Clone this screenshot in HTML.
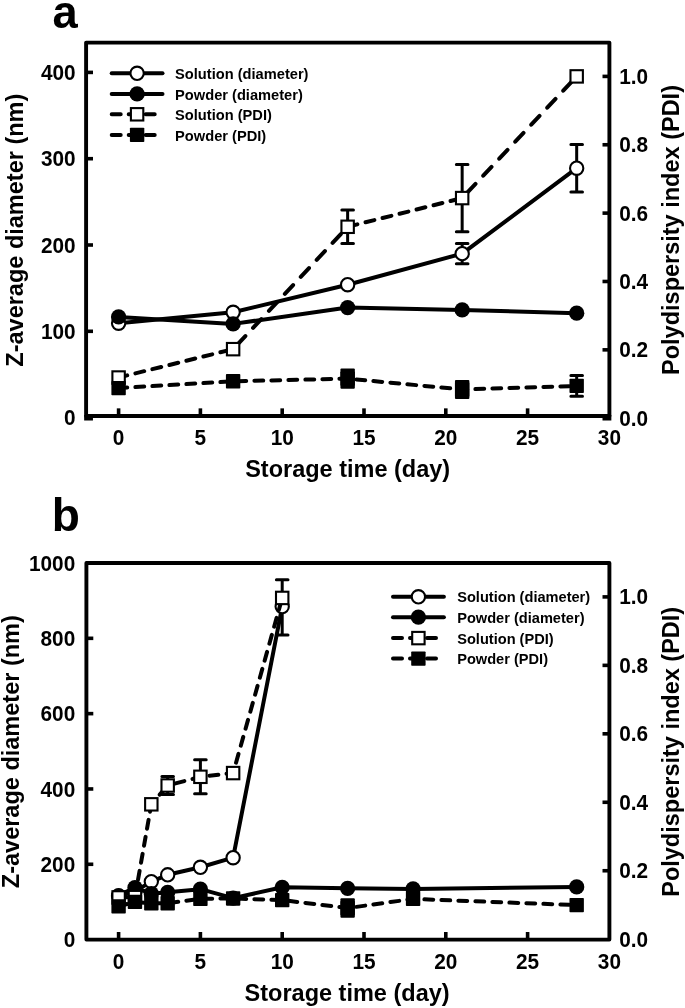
<!DOCTYPE html>
<html lang="en"><head><meta charset="utf-8"><title>Storage stability: Z-average diameter and PDI</title>
<style>html,body{margin:0;padding:0;background:#fff}body{width:685px;height:1008px;overflow:hidden}svg{display:block;will-change:transform}text{font-family:'Liberation Sans', Arial, Helvetica, sans-serif;font-weight:700;fill:#000}</style>
</head><body>
<svg width="685" height="1008" viewBox="0 0 685 1008">
<rect width="685" height="1008" fill="#fff"/>
<g id="panel-a">
<text x="52.4" y="27.6" font-size="45.3">a</text>
<rect x="86.1" y="42.6" width="523.3" height="373.35" fill="none" stroke="#000" stroke-width="3.9" stroke-linejoin="round"/>
<path d="M118.6 415.95V408.35" stroke="#000" stroke-width="3.6"/>
<text transform="translate(118.6 444.6) scale(1 1.06)" font-size="20.8" text-anchor="middle">0</text>
<path d="M200.4 415.95V408.35" stroke="#000" stroke-width="3.6"/>
<text transform="translate(200.4 444.6) scale(1 1.06)" font-size="20.8" text-anchor="middle">5</text>
<path d="M282.2 415.95V408.35" stroke="#000" stroke-width="3.6"/>
<text transform="translate(282.2 444.6) scale(1 1.06)" font-size="20.8" text-anchor="middle">10</text>
<path d="M364 415.95V408.35" stroke="#000" stroke-width="3.6"/>
<text transform="translate(364 444.6) scale(1 1.06)" font-size="20.8" text-anchor="middle">15</text>
<path d="M445.8 415.95V408.35" stroke="#000" stroke-width="3.6"/>
<text transform="translate(445.8 444.6) scale(1 1.06)" font-size="20.8" text-anchor="middle">20</text>
<path d="M527.6 415.95V408.35" stroke="#000" stroke-width="3.6"/>
<text transform="translate(527.6 444.6) scale(1 1.06)" font-size="20.8" text-anchor="middle">25</text>
<text transform="translate(609.4 444.6) scale(1 1.06)" font-size="20.8" text-anchor="middle">30</text>
<text transform="translate(75.6 425.3) scale(1 1.06)" font-size="20.8" text-anchor="end">0</text>
<path d="M86.1 331.3H93" stroke="#000" stroke-width="3.6"/>
<text transform="translate(75.6 339) scale(1 1.06)" font-size="20.8" text-anchor="end">100</text>
<path d="M86.1 245H93" stroke="#000" stroke-width="3.6"/>
<text transform="translate(75.6 252.7) scale(1 1.06)" font-size="20.8" text-anchor="end">200</text>
<path d="M86.1 158.7H93" stroke="#000" stroke-width="3.6"/>
<text transform="translate(75.6 166.4) scale(1 1.06)" font-size="20.8" text-anchor="end">300</text>
<path d="M86.1 72.4H93" stroke="#000" stroke-width="3.6"/>
<text transform="translate(75.6 80.1) scale(1 1.06)" font-size="20.8" text-anchor="end">400</text>
<text transform="translate(619.2 425.7) scale(1 1.06)" font-size="20.8">0.0</text>
<path d="M609.4 349.84H602.5" stroke="#000" stroke-width="3.6"/>
<text transform="translate(619.2 357.34) scale(1 1.06)" font-size="20.8">0.2</text>
<path d="M609.4 281.48H602.5" stroke="#000" stroke-width="3.6"/>
<text transform="translate(619.2 288.98) scale(1 1.06)" font-size="20.8">0.4</text>
<path d="M609.4 213.12H602.5" stroke="#000" stroke-width="3.6"/>
<text transform="translate(619.2 220.62) scale(1 1.06)" font-size="20.8">0.6</text>
<path d="M609.4 144.76H602.5" stroke="#000" stroke-width="3.6"/>
<text transform="translate(619.2 152.26) scale(1 1.06)" font-size="20.8">0.8</text>
<path d="M609.4 76.4H602.5" stroke="#000" stroke-width="3.6"/>
<text transform="translate(619.2 83.9) scale(1 1.06)" font-size="20.8">1.0</text>
<rect x="84.15" y="415" width="8.8" height="5.5" fill="#000"/>
<rect x="602.5" y="415" width="8.85" height="5.5" fill="#000"/>
<path d="M118.6 323.19L233.12 312.31L347.64 284.7L462.16 253.63L576.68 168.19" fill="none" stroke="#000" stroke-width="4.0" stroke-linecap="round" stroke-linejoin="round"/>
<path d="M462.16 243.43V263.83M456.36 243.43H467.96M456.36 263.83H467.96" fill="none" stroke="#000" stroke-width="3" stroke-linecap="round"/>
<path d="M576.68 144.39V191.99M570.88 144.39H582.48M570.88 191.99H582.48" fill="none" stroke="#000" stroke-width="3" stroke-linecap="round"/>
<circle cx="118.6" cy="323.19" r="6.65" fill="#fff" stroke="#000" stroke-width="2.1"/>
<circle cx="233.12" cy="312.31" r="6.65" fill="#fff" stroke="#000" stroke-width="2.1"/>
<circle cx="347.64" cy="284.7" r="6.65" fill="#fff" stroke="#000" stroke-width="2.1"/>
<circle cx="462.16" cy="253.63" r="6.65" fill="#fff" stroke="#000" stroke-width="2.1"/>
<circle cx="576.68" cy="168.19" r="6.65" fill="#fff" stroke="#000" stroke-width="2.1"/>
<path d="M118.6 316.89L233.12 323.88L347.64 307.57L462.16 309.9L576.68 313.18" fill="none" stroke="#000" stroke-width="4.0" stroke-linecap="round" stroke-linejoin="round"/>
<circle cx="118.6" cy="316.89" r="7.65" fill="#000"/>
<circle cx="233.12" cy="323.88" r="7.65" fill="#000"/>
<circle cx="347.64" cy="307.57" r="7.65" fill="#000"/>
<circle cx="462.16" cy="309.9" r="7.65" fill="#000"/>
<circle cx="576.68" cy="313.18" r="7.65" fill="#000"/>
<path d="M118.6 377.53L127.2 375.4M135.4 373.36L144.2 371.18M152.4 369.15L161.2 366.97M169.4 364.94L178.2 362.76M186.4 360.73L195.2 358.55M203.4 356.52L212.2 354.34M220.4 352.31L229.2 350.13M237.13 344.88L245.36 336.08M253.04 327.88L261.27 319.08M268.95 310.88L277.18 302.08M284.86 293.88L293.09 285.08M300.77 276.88L309 268.08M316.68 259.88L324.91 251.08M332.59 242.88L340.82 234.08M348.56 226.56L357.36 224.36M365.56 222.3L374.36 220.09M382.56 218.04L391.36 215.83M399.56 213.78L408.36 211.57M416.56 209.51L425.36 207.31M433.56 205.25L442.36 203.05M450.56 200.99L459.36 198.78M467.24 192.69L475.52 183.89M483.24 175.69L491.52 166.89M499.24 158.69L507.52 149.89M515.24 141.69L523.52 132.89M531.24 124.69L539.52 115.89M547.24 107.69L555.52 98.89M563.24 90.69L571.52 81.89" fill="none" stroke="#000" stroke-width="4.0" stroke-linecap="round" stroke-linejoin="round"/>
<path d="M347.64 209.99V243.59M341.84 209.99H353.44M341.84 243.59H353.44" fill="none" stroke="#000" stroke-width="3" stroke-linecap="round"/>
<path d="M462.16 164.48V231.68M456.36 164.48H467.96M456.36 231.68H467.96" fill="none" stroke="#000" stroke-width="3" stroke-linecap="round"/>
<rect x="112.4" y="371.33" width="12.4" height="12.4" fill="#fff" stroke="#000" stroke-width="2.1"/>
<rect x="226.92" y="342.96" width="12.4" height="12.4" fill="#fff" stroke="#000" stroke-width="2.1"/>
<rect x="341.44" y="220.59" width="12.4" height="12.4" fill="#fff" stroke="#000" stroke-width="2.1"/>
<rect x="455.96" y="191.88" width="12.4" height="12.4" fill="#fff" stroke="#000" stroke-width="2.1"/>
<rect x="570.48" y="70.2" width="12.4" height="12.4" fill="#fff" stroke="#000" stroke-width="2.1"/>
<path d="M118.6 388.12L127.2 387.61M135.4 387.12L144.2 386.59M152.4 386.1L161.2 385.58M169.4 385.09L178.2 384.56M186.4 384.07L195.2 383.55M203.4 383.06L212.2 382.53M220.4 382.04L229.2 381.52M237.4 381.19L246.2 380.98M254.4 380.79L263.2 380.59M271.4 380.39L280.2 380.19M288.4 380L297.2 379.79M305.4 379.6L314.2 379.4M322.4 379.21L331.2 379M339.4 378.81L347.64 378.62L348.2 378.67M356.4 379.45L365.2 380.29M373.4 381.06L382.2 381.9M390.4 382.68L399.2 383.51M407.4 384.29L416.2 385.13M424.4 385.9L433.2 386.74M441.4 387.52L450.2 388.35M458.4 389.13L462.16 389.49L467.2 389.33M475.4 389.07L484.2 388.8M492.4 388.54L501.2 388.27M509.4 388.01L518.2 387.73M526.4 387.48L535.2 387.2M543.4 386.94L552.2 386.67M560.4 386.41L569.2 386.13" fill="none" stroke="#000" stroke-width="4.0" stroke-linecap="round" stroke-linejoin="round"/>
<rect x="340.44" y="368.52" width="14.4" height="20.2" rx="1" fill="#000"/>
<rect x="454.96" y="379.99" width="14.4" height="19" rx="1" fill="#000"/>
<path d="M576.68 375.6V396.2M570.88 375.6H582.48M570.88 396.2H582.48" fill="none" stroke="#000" stroke-width="3" stroke-linecap="round"/>
<rect x="111.4" y="380.92" width="14.4" height="14.4" rx="0.8" fill="#000"/>
<rect x="225.92" y="374.09" width="14.4" height="14.4" rx="0.8" fill="#000"/>
<rect x="340.44" y="371.42" width="14.4" height="14.4" rx="0.8" fill="#000"/>
<rect x="454.96" y="382.29" width="14.4" height="14.4" rx="0.8" fill="#000"/>
<rect x="569.48" y="378.7" width="14.4" height="14.4" rx="0.8" fill="#000"/>
<path d="M111.7 73.3H162.5" stroke="#000" stroke-width="4.0" stroke-linecap="round"/>
<circle cx="137.1" cy="73.3" r="6.65" fill="#fff" stroke="#000" stroke-width="2.1"/>
<text x="175.1" y="78.94" font-size="14.65">Solution (diameter)</text>
<path d="M111.7 93.9H162.5" stroke="#000" stroke-width="4.0" stroke-linecap="round"/>
<circle cx="137.1" cy="93.9" r="7.65" fill="#000"/>
<text x="175.1" y="99.54" font-size="14.65">Powder (diameter)</text>
<path d="M111.7 114.3h9M128.7 114.3h9M145.7 114.3h9" stroke="#000" stroke-width="4.0" stroke-linecap="round"/>
<rect x="130.9" y="108.1" width="12.4" height="12.4" fill="#fff" stroke="#000" stroke-width="2.1"/>
<text x="175.1" y="119.94" font-size="14.65">Solution (PDI)</text>
<path d="M111.7 134.9h9M128.7 134.9h9M145.7 134.9h9" stroke="#000" stroke-width="4.0" stroke-linecap="round"/>
<rect x="129.9" y="127.7" width="14.4" height="14.4" rx="0.8" fill="#000"/>
<text x="175.1" y="140.54" font-size="14.65">Powder (PDI)</text>
<text x="347.65" y="477" font-size="23.5" text-anchor="middle">Storage time (day)</text>
<text transform="translate(23 230.2) rotate(-90)" font-size="23.5" text-anchor="middle">Z-average diameter (nm)</text>
<text transform="translate(678.8 230.0) rotate(-90)" font-size="23.5" text-anchor="middle">Polydispersity index (PDI)</text>
</g>
<g id="panel-b">
<text x="51.8" y="531" font-size="46">b</text>
<rect x="86.4" y="563" width="523" height="376.6" fill="none" stroke="#000" stroke-width="3.9" stroke-linejoin="round"/>
<path d="M118.6 939.6V932" stroke="#000" stroke-width="3.6"/>
<text transform="translate(118.6 968.7) scale(1 1.06)" font-size="20.8" text-anchor="middle">0</text>
<path d="M200.4 939.6V932" stroke="#000" stroke-width="3.6"/>
<text transform="translate(200.4 968.7) scale(1 1.06)" font-size="20.8" text-anchor="middle">5</text>
<path d="M282.2 939.6V932" stroke="#000" stroke-width="3.6"/>
<text transform="translate(282.2 968.7) scale(1 1.06)" font-size="20.8" text-anchor="middle">10</text>
<path d="M364 939.6V932" stroke="#000" stroke-width="3.6"/>
<text transform="translate(364 968.7) scale(1 1.06)" font-size="20.8" text-anchor="middle">15</text>
<path d="M445.8 939.6V932" stroke="#000" stroke-width="3.6"/>
<text transform="translate(445.8 968.7) scale(1 1.06)" font-size="20.8" text-anchor="middle">20</text>
<path d="M527.6 939.6V932" stroke="#000" stroke-width="3.6"/>
<text transform="translate(527.6 968.7) scale(1 1.06)" font-size="20.8" text-anchor="middle">25</text>
<text transform="translate(609.4 968.7) scale(1 1.06)" font-size="20.8" text-anchor="middle">30</text>
<text transform="translate(75.2 947.3) scale(1 1.06)" font-size="20.8" text-anchor="end">0</text>
<path d="M86.4 864.28H93.3" stroke="#000" stroke-width="3.6"/>
<text transform="translate(75.2 871.98) scale(1 1.06)" font-size="20.8" text-anchor="end">200</text>
<path d="M86.4 788.96H93.3" stroke="#000" stroke-width="3.6"/>
<text transform="translate(75.2 796.66) scale(1 1.06)" font-size="20.8" text-anchor="end">400</text>
<path d="M86.4 713.64H93.3" stroke="#000" stroke-width="3.6"/>
<text transform="translate(75.2 721.34) scale(1 1.06)" font-size="20.8" text-anchor="end">600</text>
<path d="M86.4 638.32H93.3" stroke="#000" stroke-width="3.6"/>
<text transform="translate(75.2 646.02) scale(1 1.06)" font-size="20.8" text-anchor="end">800</text>
<text transform="translate(75.2 570.7) scale(1 1.06)" font-size="20.8" text-anchor="end">1000</text>
<text transform="translate(619.2 946.7) scale(1 1.06)" font-size="20.8">0.0</text>
<path d="M609.4 870.74H602.5" stroke="#000" stroke-width="3.6"/>
<text transform="translate(619.2 878.24) scale(1 1.06)" font-size="20.8">0.2</text>
<path d="M609.4 802.28H602.5" stroke="#000" stroke-width="3.6"/>
<text transform="translate(619.2 809.78) scale(1 1.06)" font-size="20.8">0.4</text>
<path d="M609.4 733.82H602.5" stroke="#000" stroke-width="3.6"/>
<text transform="translate(619.2 741.32) scale(1 1.06)" font-size="20.8">0.6</text>
<path d="M609.4 665.36H602.5" stroke="#000" stroke-width="3.6"/>
<text transform="translate(619.2 672.86) scale(1 1.06)" font-size="20.8">0.8</text>
<path d="M609.4 596.9H602.5" stroke="#000" stroke-width="3.6"/>
<text transform="translate(619.2 604.4) scale(1 1.06)" font-size="20.8">1.0</text>
<path d="M118.6 896.29L134.96 891.4L151.32 881.6L167.68 874.82L200.4 867.29L233.12 857.69L282.2 606.61" fill="none" stroke="#000" stroke-width="4.0" stroke-linecap="round" stroke-linejoin="round"/>
<path d="M282.2 579.71V635.11M276.4 579.71H288M276.4 635.11H288" fill="none" stroke="#000" stroke-width="3" stroke-linecap="round"/>
<circle cx="118.6" cy="896.29" r="6.65" fill="#fff" stroke="#000" stroke-width="2.1"/>
<circle cx="134.96" cy="891.4" r="6.65" fill="#fff" stroke="#000" stroke-width="2.1"/>
<circle cx="151.32" cy="881.6" r="6.65" fill="#fff" stroke="#000" stroke-width="2.1"/>
<circle cx="167.68" cy="874.82" r="6.65" fill="#fff" stroke="#000" stroke-width="2.1"/>
<circle cx="200.4" cy="867.29" r="6.65" fill="#fff" stroke="#000" stroke-width="2.1"/>
<circle cx="233.12" cy="857.69" r="6.65" fill="#fff" stroke="#000" stroke-width="2.1"/>
<circle cx="282.2" cy="606.61" r="6.65" fill="#fff" stroke="#000" stroke-width="2.1"/>
<path d="M118.6 895.54L134.96 887.63L151.32 893.65L167.68 892.3L200.4 889.14L233.12 898.17L282.2 887.29L347.64 888.31L413.08 888.91L576.68 886.88" fill="none" stroke="#000" stroke-width="4.0" stroke-linecap="round" stroke-linejoin="round"/>
<circle cx="118.6" cy="895.54" r="7.65" fill="#000"/>
<circle cx="134.96" cy="887.63" r="7.65" fill="#000"/>
<circle cx="151.32" cy="893.65" r="7.65" fill="#000"/>
<circle cx="167.68" cy="892.3" r="7.65" fill="#000"/>
<circle cx="200.4" cy="889.14" r="7.65" fill="#000"/>
<circle cx="233.12" cy="898.17" r="7.65" fill="#000"/>
<circle cx="282.2" cy="887.29" r="7.65" fill="#000"/>
<circle cx="347.64" cy="888.31" r="7.65" fill="#000"/>
<circle cx="413.08" cy="888.91" r="7.65" fill="#000"/>
<circle cx="576.68" cy="886.88" r="7.65" fill="#000"/>
<path d="M118.6 897.44L127.2 897.26M135.04 896.66L136.59 887.86M138.04 879.66L139.59 870.86M141.03 862.66L142.59 853.86M144.03 845.66L145.58 836.86M147.03 828.66L148.58 819.86M150.03 811.66L151.32 804.33L152.6 802.86M159.73 794.66L167.38 785.86M175.53 783.42L184.33 781.08M192.53 778.9L200.4 776.81L201.33 776.71M209.53 775.77L218.33 774.77M226.53 773.83L233.12 773.08L233.74 770.87M236.04 762.67L238.5 753.87M240.8 745.67L243.27 736.87M245.56 728.67L248.03 719.87M250.33 711.67L252.79 702.87M255.09 694.67L257.56 685.87M259.85 677.67L262.32 668.87M264.62 660.67L267.08 651.87M269.38 643.67L271.85 634.87M274.15 626.67L276.61 617.87M278.91 609.67L281.37 600.87" fill="none" stroke="#000" stroke-width="4.0" stroke-linecap="round" stroke-linejoin="round"/>
<path d="M167.68 776.51V794.51M161.88 776.51H173.48M161.88 794.51H173.48" fill="none" stroke="#000" stroke-width="3" stroke-linecap="round"/>
<path d="M200.4 759.81V793.81M194.6 759.81H206.2M194.6 793.81H206.2" fill="none" stroke="#000" stroke-width="3" stroke-linecap="round"/>
<rect x="112.4" y="891.24" width="12.4" height="12.4" fill="#fff" stroke="#000" stroke-width="2.1"/>
<rect x="128.76" y="890.9" width="12.4" height="12.4" fill="#fff" stroke="#000" stroke-width="2.1"/>
<rect x="145.12" y="798.13" width="12.4" height="12.4" fill="#fff" stroke="#000" stroke-width="2.1"/>
<rect x="161.48" y="779.31" width="12.4" height="12.4" fill="#fff" stroke="#000" stroke-width="2.1"/>
<rect x="194.2" y="770.61" width="12.4" height="12.4" fill="#fff" stroke="#000" stroke-width="2.1"/>
<rect x="226.92" y="766.88" width="12.4" height="12.4" fill="#fff" stroke="#000" stroke-width="2.1"/>
<rect x="276" y="591.73" width="12.4" height="12.4" fill="#fff" stroke="#000" stroke-width="2.1"/>
<path d="M118.6 906.34L127.2 904M135.4 901.93L144.2 902.66M152.4 903.26L161.2 903.26M169.4 903.02L178.2 901.83M186.4 900.71L195.2 899.52M203.4 898.78L212.2 898.69M220.4 898.6L229.2 898.51M237.4 898.61L246.2 898.9M254.4 899.18L263.2 899.47M271.4 899.75L280.2 900.04M288.4 900.86L297.2 901.94M305.4 902.94L314.2 904.01M322.4 905.01L331.2 906.08M339.4 907.08L347.64 908.08L348.2 908.01M356.4 906.86L365.2 905.62M373.4 904.47L382.2 903.24M390.4 902.09L399.2 900.86M407.4 899.71L413.08 898.91L416.2 899.03M424.4 899.34L433.2 899.67M441.4 899.98L450.2 900.32M458.4 900.63L467.2 900.96M475.4 901.27L484.2 901.6M492.4 901.92L501.2 902.25M509.4 902.56L518.2 902.89M526.4 903.2L535.2 903.54M543.4 903.85L552.2 904.18M560.4 904.49L569.2 904.82" fill="none" stroke="#000" stroke-width="4.0" stroke-linecap="round" stroke-linejoin="round"/>
<rect x="340.44" y="898.33" width="14.4" height="19.5" rx="1" fill="#000"/>
<rect x="111.4" y="899.14" width="14.4" height="14.4" rx="0.8" fill="#000"/>
<rect x="127.76" y="894.69" width="14.4" height="14.4" rx="0.8" fill="#000"/>
<rect x="144.12" y="896.06" width="14.4" height="14.4" rx="0.8" fill="#000"/>
<rect x="160.48" y="896.06" width="14.4" height="14.4" rx="0.8" fill="#000"/>
<rect x="193.2" y="891.61" width="14.4" height="14.4" rx="0.8" fill="#000"/>
<rect x="225.92" y="891.27" width="14.4" height="14.4" rx="0.8" fill="#000"/>
<rect x="275" y="892.91" width="14.4" height="14.4" rx="0.8" fill="#000"/>
<rect x="340.44" y="900.88" width="14.4" height="14.4" rx="0.8" fill="#000"/>
<rect x="405.88" y="891.71" width="14.4" height="14.4" rx="0.8" fill="#000"/>
<rect x="569.48" y="897.91" width="14.4" height="14.4" rx="0.8" fill="#000"/>
<path d="M393 596.8H443.9" stroke="#000" stroke-width="4.0" stroke-linecap="round"/>
<circle cx="418.4" cy="596.8" r="6.65" fill="#fff" stroke="#000" stroke-width="2.1"/>
<text x="457.2" y="602.43" font-size="14.6">Solution (diameter)</text>
<path d="M393 617.2H443.9" stroke="#000" stroke-width="4.0" stroke-linecap="round"/>
<circle cx="418.4" cy="617.2" r="7.65" fill="#000"/>
<text x="457.2" y="622.83" font-size="14.6">Powder (diameter)</text>
<path d="M393 638.1h9M410 638.1h9M427 638.1h9" stroke="#000" stroke-width="4.0" stroke-linecap="round"/>
<rect x="412.2" y="631.9" width="12.4" height="12.4" fill="#fff" stroke="#000" stroke-width="2.1"/>
<text x="457.2" y="643.73" font-size="14.6">Solution (PDI)</text>
<path d="M393 658.6h9M410 658.6h9M427 658.6h9" stroke="#000" stroke-width="4.0" stroke-linecap="round"/>
<rect x="411.2" y="651.4" width="14.4" height="14.4" rx="0.8" fill="#000"/>
<text x="457.2" y="664.23" font-size="14.6">Powder (PDI)</text>
<text x="347.1" y="1000.5" font-size="23.5" text-anchor="middle">Storage time (day)</text>
<text transform="translate(18.8 751.7) rotate(-90)" font-size="23.5" text-anchor="middle">Z-average diameter (nm)</text>
<text transform="translate(679.1 751.8) rotate(-90)" font-size="23.5" text-anchor="middle">Polydispersity index (PDI)</text>
</g>
</svg></body></html>
